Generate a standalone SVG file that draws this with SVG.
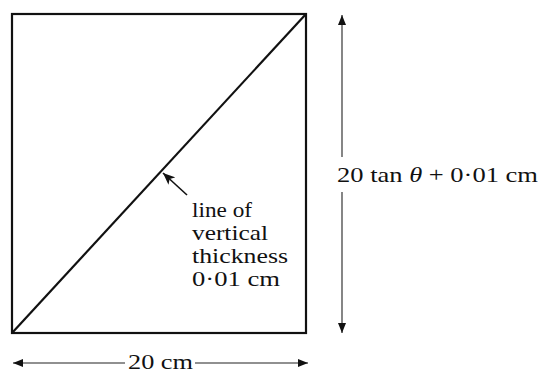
<svg xmlns="http://www.w3.org/2000/svg" width="543" height="374" viewBox="0 0 543 374">
<defs>
<style>
.shape{fill:none;stroke:#111;stroke-width:2.2}
.dim{fill:none;stroke:#222;stroke-width:1.1}
.ptr{fill:none;stroke:#111;stroke-width:1.6}
text{font-family:"Liberation Serif","Times New Roman",serif;font-size:22px;fill:#111}
</style>
<marker id="ah" viewBox="0 0 10 8" refX="10" refY="4" markerWidth="10" markerHeight="8" markerUnits="userSpaceOnUse" orient="auto-start-reverse">
<path d="M0,0 L10,4 L0,8 Z" fill="#111"/>
</marker>
<marker id="ap" viewBox="0 0 12 10" refX="12" refY="5" markerWidth="12" markerHeight="10" markerUnits="userSpaceOnUse" orient="auto">
<path d="M0,0 L12,5 L0,10 L3,5 Z" fill="#111"/>
</marker>
</defs>
<g id="square">
<rect class="shape" x="12" y="14" width="294" height="319"/>
<line class="shape" x1="12" y1="333" x2="306" y2="14"/>
</g>
<g id="label-line">
<text x="192" y="217" textLength="60" lengthAdjust="spacingAndGlyphs">line of</text>
<text x="192" y="240" textLength="76" lengthAdjust="spacingAndGlyphs">vertical</text>
<text x="192" y="263" textLength="96" lengthAdjust="spacingAndGlyphs">thickness</text>
<text x="192" y="286" textLength="88" lengthAdjust="spacingAndGlyphs">0·01 cm</text>
</g>
<g id="label-height">
<text x="337" y="182" textLength="201" lengthAdjust="spacingAndGlyphs">20 tan <tspan font-style="italic">θ</tspan> + 0·01 cm</text>
</g>
<g id="label-width">
<text x="128" y="369" textLength="65" lengthAdjust="spacingAndGlyphs">20 cm</text>
</g>
<g id="connectors">
<line class="ptr" x1="187" y1="195" x2="163" y2="173" marker-end="url(#ap)"/>
<line class="dim" x1="342" y1="157" x2="342" y2="15" marker-end="url(#ah)"/>
<line class="dim" x1="342" y1="192" x2="342" y2="333" marker-end="url(#ah)"/>
<line class="dim" x1="125" y1="363" x2="13" y2="363" marker-end="url(#ah)"/>
<line class="dim" x1="195" y1="363" x2="308" y2="363" marker-end="url(#ah)"/>
</g>
</svg>
